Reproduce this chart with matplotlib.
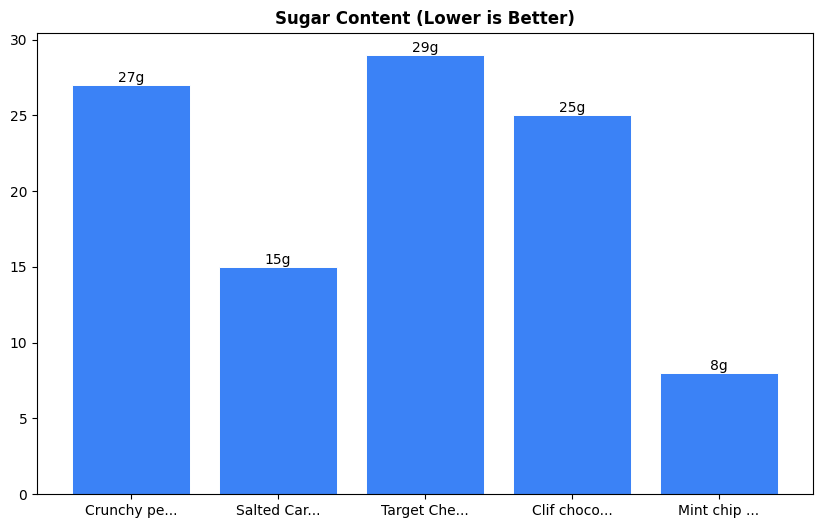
import matplotlib.pyplot as plt

names = ['Crunchy pe...', 'Salted Car...', 'Target Che...', 'Clif choco...', 'Mint chip ...']
sugar = [27, 15, 29, 25, 8]

fig = plt.figure(figsize=(8.22, 5.28), dpi=100)
ax = fig.add_axes([0.045, 0.064, 0.944, 0.874])

bars = ax.bar(names, sugar, color='#3b82f6', edgecolor='white', linewidth=0.7, width=0.8)
for b, v in zip(bars, sugar):
    ax.text(b.get_x() + b.get_width() / 2, b.get_height(), f'{v}g',
            ha='center', va='bottom', fontsize=10)

ax.set_title('Sugar Content (Lower is Better)', fontweight='bold', fontsize=12)

fig.savefig('out.png', dpi=100)
